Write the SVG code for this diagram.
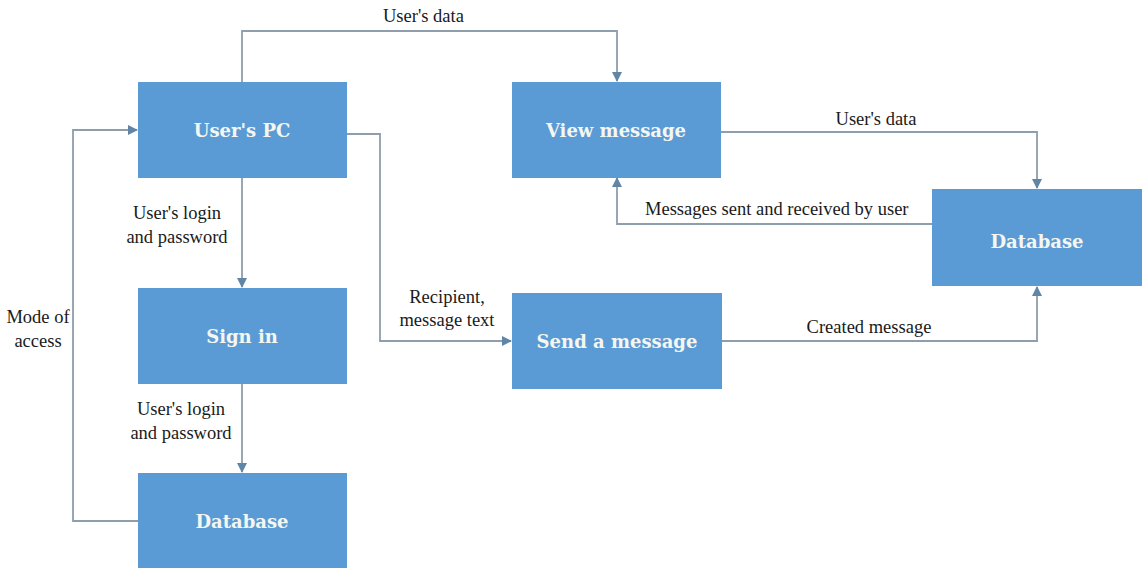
<svg xmlns="http://www.w3.org/2000/svg" width="1143" height="571" viewBox="0 0 1143 571">
<style>
.box{fill:#5b9bd5;}
.bt{font-family:"DejaVu Serif",serif;font-weight:bold;font-size:18px;fill:#f4f6f0;text-anchor:middle;}
.lb{font-family:'Liberation Serif','Times New Roman',Times,'DejaVu Serif',serif;font-size:18.5px;fill:#1a1a1a;}
.ln{fill:none;stroke:#8e9eac;stroke-width:1.8;marker-end:url(#ah);}
</style>
<defs>
<marker id="ah" markerWidth="10" markerHeight="10" refX="9" refY="5" orient="auto" markerUnits="userSpaceOnUse">
<path d="M0,0 L10,5 L0,10 Z" fill="#5f86a6"/>
</marker>
</defs>
<rect width="1143" height="571" fill="#ffffff"/>
<g id="connectors">
<path class="ln" d="M242,82 V31 H617 V81"/>
<path class="ln" d="M347,134 H380 V341 H511"/>
<path class="ln" d="M242,178 V287"/>
<path class="ln" d="M242,384 V472"/>
<path class="ln" d="M138,521 H73 V130 H137"/>
<path class="ln" d="M721,132 H1037 V188"/>
<path class="ln" d="M932,224 H617 V178"/>
<path class="ln" d="M722,341 H1037 V287"/>
</g>
<g id="labels">
<text class="lb" x="383" y="22">User's data</text>
<text class="lb" x="177" y="219" text-anchor="middle">User's login</text>
<text class="lb" x="177" y="243" text-anchor="middle">and password</text>
<text class="lb" x="181" y="415" text-anchor="middle">User's login</text>
<text class="lb" x="181" y="439" text-anchor="middle">and password</text>
<text class="lb" x="38" y="323" text-anchor="middle">Mode of</text>
<text class="lb" x="38" y="347" text-anchor="middle">access</text>
<text class="lb" x="447" y="303" text-anchor="middle">Recipient,</text>
<text class="lb" x="447" y="326" text-anchor="middle">message text</text>
<text class="lb" x="876" y="125" text-anchor="middle">User's data</text>
<text class="lb" x="645" y="215">Messages sent and received by user</text>
<text class="lb" x="869" y="333" text-anchor="middle">Created message</text>
</g>
<g id="users-pc"><rect class="box" x="138" y="82" width="209" height="96"/><text class="bt" x="242" y="137">User's PC</text></g>
<g id="view-message"><rect class="box" x="512" y="82" width="209" height="96"/><text class="bt" x="616" y="137">View message</text></g>
<g id="database-right"><rect class="box" x="932" y="189" width="210" height="97"/><text class="bt" x="1037" y="248">Database</text></g>
<g id="sign-in"><rect class="box" x="138" y="288" width="209" height="96"/><text class="bt" x="242" y="343">Sign in</text></g>
<g id="send-message"><rect class="box" x="512" y="293" width="210" height="96"/><text class="bt" x="617" y="348">Send a message</text></g>
<g id="database-left"><rect class="box" x="138" y="473" width="209" height="95"/><text class="bt" x="242" y="528">Database</text></g>
</svg>
